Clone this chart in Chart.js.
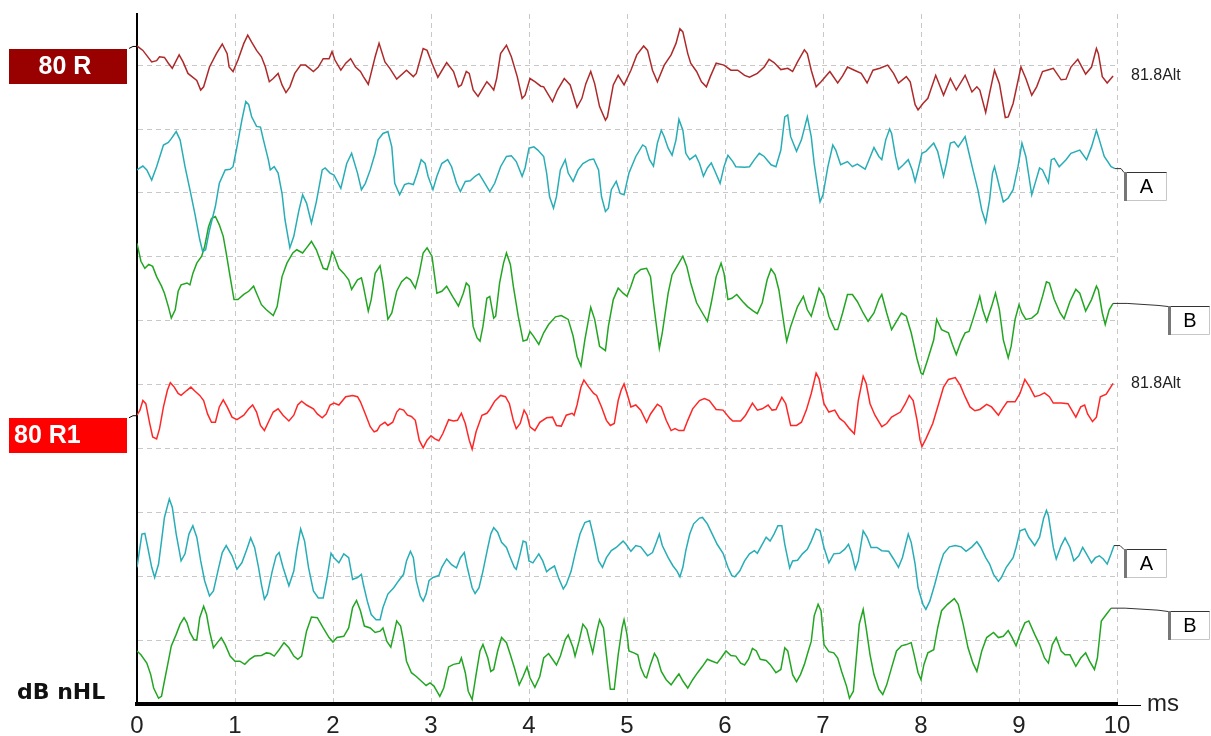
<!doctype html>
<html>
<head>
<meta charset="UTF-8">
<title>ABR traces</title>
<script src="https://cdn.jsdelivr.net/npm/chart.js@4"></script>
<style>
  html, body { margin: 0; padding: 0; background: #fff; }
  #wrap { width: 1211px; height: 736px; }
</style>
</head>
<body>
<div id="wrap"><canvas id="chart" width="1211" height="736"></canvas></div>
<script>
const timeTicks = [0, 1, 2, 3, 4, 5, 6, 7, 8, 9, 10];
const traceNames = ['80 R', '80 R1'];
const trailLabels = ['81.8Alt', '81.8Alt'];
const markerNames = ['A', 'B'];

// [ms, level] pairs, one array per trace
const trace80R = [[0,10.30],[0.06,10.23],[0.15,10.05],[0.20,10.07],[0.23,10.13],[0.28,10.12],[0.32,10.03],[0.36,9.95],[0.43,10.16],[0.47,10.05],[0.52,9.87],[0.61,9.76],[0.65,9.61],[0.68,9.66],[0.74,9.97],[0.81,10.18],[0.87,10.33],[0.92,10.18],[0.94,9.97],[0.98,9.90],[1.03,10.08],[1.09,10.34],[1.13,10.47],[1.17,10.36],[1.22,10.23],[1.27,10.13],[1.31,9.97],[1.35,9.74],[1.39,9.79],[1.44,9.87],[1.48,9.69],[1.52,9.57],[1.56,9.66],[1.61,9.87],[1.67,10.00],[1.72,10.00],[1.80,9.90],[1.85,9.97],[1.90,10.10],[1.96,10.10],[1.99,10.21],[2.02,10.08],[2.08,9.92],[2.13,10.03],[2.18,10.10],[2.23,9.97],[2.28,9.90],[2.31,9.82],[2.36,9.70],[2.38,9.82],[2.43,10.13],[2.47,10.34],[2.53,10.05],[2.58,9.95],[2.65,9.78],[2.75,9.92],[2.82,9.82],[2.85,9.87],[2.92,10.26],[2.96,10.23],[3.01,10.03],[3.07,9.81],[3.16,10.04],[3.23,9.90],[3.28,9.66],[3.31,9.69],[3.36,9.90],[3.39,9.87],[3.43,9.61],[3.48,9.51],[3.57,9.74],[3.60,9.69],[3.64,9.61],[3.67,9.79],[3.71,10.18],[3.77,10.31],[3.82,10.13],[3.88,9.82],[3.93,9.48],[3.96,9.53],[4.01,9.79],[4.06,9.74],[4.12,9.67],[4.15,9.66],[4.20,9.53],[4.24,9.43],[4.29,9.61],[4.36,9.79],[4.42,9.69],[4.49,9.34],[4.54,9.48],[4.58,9.71],[4.63,9.90],[4.67,9.71],[4.72,9.35],[4.78,9.14],[4.80,9.19],[4.86,9.69],[4.91,9.84],[4.97,9.69],[5.04,9.92],[5.10,10.16],[5.17,10.30],[5.21,10.23],[5.26,9.92],[5.31,9.74],[5.38,10.00],[5.45,10.16],[5.50,10.34],[5.54,10.57],[5.57,10.52],[5.62,10.18],[5.65,10.03],[5.71,9.90],[5.76,9.74],[5.81,9.66],[5.85,9.82],[5.91,10.03],[5.99,10.00],[6.06,9.92],[6.13,9.92],[6.20,9.84],[6.25,9.81],[6.33,9.87],[6.40,9.97],[6.45,10.09],[6.50,10.04],[6.57,9.93],[6.64,9.95],[6.69,9.90],[6.74,10.05],[6.81,10.24],[6.84,10.18],[6.88,9.92],[6.93,9.66],[6.98,9.74],[7.07,9.90],[7.15,9.72],[7.20,9.83],[7.25,9.97],[7.32,9.92],[7.39,9.87],[7.45,9.72],[7.51,9.92],[7.58,9.95],[7.66,10.00],[7.72,9.87],[7.77,9.72],[7.85,9.82],[7.89,9.74],[7.94,9.38],[7.97,9.30],[8.02,9.40],[8.07,9.48],[8.15,9.84],[8.23,9.53],[8.30,9.79],[8.36,9.61],[8.45,9.84],[8.52,9.58],[8.57,9.66],[8.60,9.61],[8.66,9.26],[8.70,9.56],[8.75,9.92],[8.80,9.71],[8.86,9.18],[8.89,9.19],[8.94,9.40],[9.02,9.97],[9.07,9.79],[9.13,9.53],[9.18,9.66],[9.24,9.90],[9.31,9.93],[9.35,9.95],[9.43,9.77],[9.48,9.78],[9.53,9.97],[9.60,10.09],[9.68,9.86],[9.74,9.97],[9.79,10.26],[9.81,10.18],[9.85,9.82],[9.90,9.72],[9.96,9.83]];

const trace80RA = [[0,8.36],[0.06,8.42],[0.10,8.36],[0.15,8.20],[0.20,8.41],[0.27,8.75],[0.32,8.79],[0.35,8.85],[0.40,8.96],[0.44,8.83],[0.49,8.41],[0.54,8.05],[0.59,7.68],[0.64,7.27],[0.67,7.08],[0.70,7.11],[0.74,7.42],[0.80,7.79],[0.84,8.15],[0.90,8.36],[0.95,8.37],[0.98,8.41],[1.02,8.72],[1.07,9.14],[1.11,9.43],[1.14,9.38],[1.17,9.19],[1.22,9.04],[1.26,9.03],[1.29,8.83],[1.34,8.52],[1.36,8.36],[1.40,8.41],[1.44,8.31],[1.48,7.99],[1.51,7.58],[1.56,7.14],[1.60,7.32],[1.65,7.71],[1.69,7.97],[1.73,7.84],[1.78,7.53],[1.83,7.86],[1.89,8.36],[1.92,8.39],[1.97,8.31],[2.01,8.28],[2.08,8.07],[2.14,8.46],[2.19,8.62],[2.25,8.31],[2.29,8.05],[2.33,8.15],[2.38,8.36],[2.43,8.62],[2.46,8.83],[2.51,8.93],[2.56,8.96],[2.60,8.72],[2.63,8.15],[2.68,7.97],[2.73,8.13],[2.77,8.15],[2.82,8.13],[2.86,8.31],[2.90,8.52],[2.94,8.46],[2.97,8.26],[3.02,8.05],[3.06,8.26],[3.11,8.46],[3.17,8.52],[3.21,8.41],[3.26,8.15],[3.30,8.02],[3.35,8.18],[3.40,8.19],[3.45,8.26],[3.49,8.30],[3.53,8.20],[3.60,8.02],[3.65,8.15],[3.71,8.41],[3.77,8.57],[3.82,8.58],[3.87,8.49],[3.93,8.26],[3.96,8.39],[4.00,8.70],[4.05,8.72],[4.09,8.67],[4.15,8.57],[4.18,8.31],[4.21,7.94],[4.25,7.76],[4.28,7.94],[4.32,8.36],[4.37,8.52],[4.40,8.31],[4.45,8.18],[4.50,8.36],[4.55,8.46],[4.62,8.52],[4.66,8.53],[4.71,8.36],[4.74,7.94],[4.78,7.71],[4.81,7.76],[4.84,8.05],[4.89,8.18],[4.93,7.99],[4.97,7.97],[5.02,8.31],[5.09,8.57],[5.16,8.75],[5.19,8.72],[5.23,8.52],[5.27,8.42],[5.31,8.78],[5.35,8.98],[5.38,8.88],[5.42,8.70],[5.46,8.59],[5.50,8.83],[5.53,9.15],[5.57,8.98],[5.60,8.62],[5.64,8.52],[5.70,8.59],[5.74,8.46],[5.78,8.26],[5.82,8.39],[5.86,8.47],[5.90,8.33],[5.95,8.15],[5.99,8.41],[6.03,8.59],[6.08,8.49],[6.11,8.41],[6.20,8.40],[6.25,8.41],[6.30,8.52],[6.35,8.62],[6.40,8.57],[6.47,8.44],[6.52,8.41],[6.57,8.67],[6.61,9.19],[6.64,9.22],[6.67,8.88],[6.73,8.65],[6.78,8.83],[6.84,9.19],[6.88,8.88],[6.91,8.46],[6.95,8.05],[6.97,7.86],[7.00,7.97],[7.05,8.41],[7.10,8.75],[7.13,8.67],[7.18,8.44],[7.25,8.49],[7.30,8.41],[7.35,8.45],[7.43,8.37],[7.47,8.52],[7.52,8.71],[7.57,8.57],[7.60,8.52],[7.64,8.83],[7.68,9.00],[7.70,8.93],[7.74,8.57],[7.77,8.37],[7.82,8.44],[7.87,8.52],[7.91,8.36],[7.94,8.18],[7.97,8.36],[8.01,8.62],[8.05,8.65],[8.13,8.78],[8.17,8.65],[8.23,8.26],[8.26,8.46],[8.30,8.78],[8.34,8.80],[8.38,8.72],[8.45,8.88],[8.49,8.62],[8.53,8.36],[8.58,8.05],[8.62,7.73],[8.66,7.54],[8.70,7.89],[8.73,8.31],[8.75,8.41],[8.80,8.10],[8.84,7.86],[8.89,7.92],[8.94,8.05],[8.99,8.41],[9.03,8.78],[9.07,8.57],[9.13,7.97],[9.17,8.18],[9.21,8.39],[9.24,8.36],[9.30,8.16],[9.33,8.52],[9.36,8.54],[9.41,8.41],[9.48,8.52],[9.53,8.62],[9.62,8.67],[9.69,8.52],[9.74,8.72],[9.79,8.98],[9.82,8.83],[9.87,8.57],[9.94,8.41],[9.98,8.38]];

const trace80RB = [[0,7.21],[0.04,6.93],[0.08,6.82],[0.12,6.88],[0.16,6.85],[0.20,6.69],[0.25,6.54],[0.28,6.43],[0.32,6.22],[0.35,6.04],[0.39,6.17],[0.42,6.46],[0.45,6.56],[0.51,6.59],[0.54,6.56],[0.57,6.74],[0.61,6.90],[0.66,7.01],[0.69,7.16],[0.73,7.47],[0.76,7.60],[0.80,7.63],[0.84,7.50],[0.88,7.32],[0.91,7.06],[0.95,6.69],[0.99,6.33],[1.03,6.33],[1.09,6.41],[1.14,6.46],[1.19,6.54],[1.22,6.43],[1.27,6.25],[1.32,6.17],[1.39,6.08],[1.43,6.22],[1.48,6.69],[1.53,6.90],[1.59,7.06],[1.63,7.11],[1.69,7.06],[1.73,7.14],[1.78,7.24],[1.83,7.11],[1.90,6.82],[1.94,6.80],[1.97,6.95],[1.99,7.08],[2.01,7.03],[2.06,6.82],[2.11,6.74],[2.16,6.64],[2.19,6.49],[2.25,6.64],[2.29,6.67],[2.31,6.54],[2.36,6.15],[2.39,6.33],[2.43,6.74],[2.48,6.86],[2.51,6.59],[2.56,6.02],[2.60,6.12],[2.65,6.46],[2.70,6.61],[2.75,6.68],[2.79,6.64],[2.84,6.51],[2.88,6.74],[2.92,7.06],[2.96,7.14],[3.01,7.01],[3.06,6.43],[3.11,6.46],[3.16,6.54],[3.22,6.38],[3.28,6.23],[3.33,6.43],[3.36,6.59],[3.39,6.54],[3.43,5.91],[3.47,5.73],[3.50,5.68],[3.53,5.91],[3.57,6.35],[3.60,6.38],[3.64,6.04],[3.66,6.07],[3.70,6.59],[3.74,6.90],[3.77,7.06],[3.81,6.88],[3.84,6.54],[3.89,6.07],[3.94,5.68],[3.98,5.70],[4.01,5.83],[4.04,5.77],[4.10,5.63],[4.15,5.81],[4.20,5.94],[4.27,6.06],[4.33,6.08],[4.40,6.02],[4.45,5.76],[4.49,5.44],[4.53,5.29],[4.57,5.70],[4.63,6.21],[4.67,6.02],[4.72,5.60],[4.78,5.53],[4.81,5.91],[4.86,6.33],[4.91,6.51],[4.96,6.43],[5.00,6.38],[5.04,6.54],[5.08,6.72],[5.14,6.80],[5.20,6.82],[5.24,6.69],[5.27,6.28],[5.31,5.81],[5.33,5.57],[5.36,5.81],[5.42,6.43],[5.46,6.72],[5.51,6.85],[5.57,7.01],[5.61,6.85],[5.65,6.59],[5.71,6.28],[5.77,6.12],[5.82,5.99],[5.86,6.28],[5.91,6.69],[5.96,6.90],[5.99,6.74],[6.03,6.33],[6.07,6.35],[6.12,6.41],[6.18,6.30],[6.23,6.22],[6.29,6.15],[6.33,6.11],[6.38,6.28],[6.43,6.64],[6.47,6.81],[6.51,6.72],[6.55,6.48],[6.61,5.86],[6.63,5.68],[6.67,5.91],[6.74,6.22],[6.80,6.38],[6.84,6.17],[6.88,6.07],[6.92,6.28],[6.96,6.51],[7.01,6.38],[7.06,6.07],[7.12,5.86],[7.15,5.86],[7.20,6.12],[7.25,6.41],[7.30,6.41],[7.35,6.30],[7.41,6.12],[7.46,5.99],[7.52,6.12],[7.57,6.33],[7.60,6.41],[7.65,6.12],[7.70,5.86],[7.75,5.99],[7.80,6.12],[7.85,6.07],[7.90,5.81],[7.96,5.40],[8.00,5.18],[8.02,5.16],[8.07,5.40],[8.13,5.70],[8.16,6.02],[8.21,5.86],[8.28,5.81],[8.32,5.63],[8.36,5.47],[8.41,5.68],[8.45,5.81],[8.49,5.83],[8.53,6.02],[8.57,6.22],[8.60,6.38],[8.63,6.17],[8.67,5.99],[8.72,6.22],[8.76,6.43],[8.80,6.17],[8.84,5.70],[8.89,5.42],[8.92,5.60],[8.96,6.02],[9.00,6.25],[9.03,6.12],[9.07,6.02],[9.13,6.04],[9.19,6.12],[9.24,6.38],[9.28,6.61],[9.31,6.59],[9.36,6.33],[9.42,6.12],[9.46,6.03],[9.52,6.30],[9.58,6.49],[9.62,6.43],[9.68,6.15],[9.74,6.33],[9.79,6.54],[9.81,6.48],[9.85,6.12],[9.88,5.94],[9.92,6.17],[9.96,6.27]];

const trace80R1 = [[0,4.52],[0.03,4.60],[0.06,4.75],[0.09,4.70],[0.13,4.39],[0.16,4.18],[0.20,4.15],[0.23,4.31],[0.27,4.65],[0.31,4.91],[0.34,5.03],[0.38,4.96],[0.42,4.86],[0.45,4.83],[0.51,4.91],[0.55,4.96],[0.59,4.90],[0.64,4.83],[0.68,4.75],[0.72,4.54],[0.76,4.41],[0.80,4.41],[0.84,4.65],[0.88,4.76],[0.92,4.65],[0.97,4.49],[1.02,4.45],[1.09,4.52],[1.14,4.62],[1.18,4.68],[1.22,4.57],[1.26,4.36],[1.30,4.28],[1.34,4.41],[1.39,4.57],[1.44,4.62],[1.49,4.52],[1.55,4.43],[1.60,4.52],[1.64,4.68],[1.68,4.74],[1.73,4.68],[1.80,4.62],[1.84,4.54],[1.89,4.48],[1.93,4.54],[1.97,4.68],[2.01,4.71],[2.06,4.68],[2.13,4.81],[2.20,4.83],[2.25,4.81],[2.28,4.73],[2.33,4.54],[2.38,4.34],[2.42,4.26],[2.45,4.28],[2.48,4.36],[2.53,4.41],[2.56,4.36],[2.61,4.41],[2.65,4.57],[2.68,4.62],[2.72,4.60],[2.76,4.52],[2.80,4.50],[2.84,4.44],[2.88,4.13],[2.92,4.01],[2.96,4.13],[3.00,4.20],[3.04,4.15],[3.08,4.12],[3.12,4.23],[3.18,4.45],[3.23,4.43],[3.27,4.44],[3.31,4.55],[3.35,4.39],[3.39,4.13],[3.42,3.99],[3.46,4.26],[3.52,4.52],[3.57,4.55],[3.60,4.61],[3.65,4.74],[3.71,4.83],[3.76,4.81],[3.80,4.70],[3.84,4.44],[3.87,4.31],[3.91,4.39],[3.95,4.60],[3.98,4.52],[4.01,4.34],[4.06,4.28],[4.11,4.41],[4.18,4.48],[4.24,4.49],[4.28,4.36],[4.33,4.35],[4.38,4.52],[4.44,4.55],[4.46,4.52],[4.49,4.68],[4.53,4.96],[4.56,5.07],[4.61,4.96],[4.66,4.86],[4.69,4.83],[4.74,4.65],[4.79,4.44],[4.83,4.36],[4.87,4.39],[4.91,4.75],[4.94,4.91],[4.97,5.01],[5.01,4.81],[5.04,4.65],[5.09,4.68],[5.14,4.60],[5.20,4.41],[5.24,4.54],[5.31,4.69],[5.35,4.65],[5.40,4.44],[5.45,4.28],[5.49,4.31],[5.53,4.28],[5.58,4.28],[5.62,4.44],[5.67,4.62],[5.74,4.75],[5.79,4.78],[5.84,4.75],[5.91,4.61],[5.98,4.60],[6.05,4.47],[6.08,4.43],[6.16,4.43],[6.21,4.52],[6.28,4.71],[6.33,4.60],[6.38,4.62],[6.44,4.68],[6.48,4.60],[6.52,4.61],[6.58,4.80],[6.62,4.70],[6.67,4.36],[6.73,4.36],[6.78,4.41],[6.83,4.60],[6.88,4.86],[6.93,5.18],[6.96,5.09],[7.01,4.70],[7.06,4.57],[7.12,4.60],[7.17,4.47],[7.22,4.41],[7.27,4.31],[7.32,4.23],[7.36,4.75],[7.41,5.13],[7.44,5.02],[7.48,4.70],[7.53,4.52],[7.60,4.34],[7.65,4.39],[7.70,4.49],[7.79,4.57],[7.84,4.70],[7.88,4.83],[7.92,4.75],[7.96,4.44],[7.99,4.13],[8.01,4.03],[8.05,4.15],[8.12,4.39],[8.18,4.70],[8.23,4.96],[8.28,5.08],[8.35,5.11],[8.40,4.99],[8.45,4.81],[8.50,4.65],[8.55,4.59],[8.60,4.61],[8.67,4.69],[8.72,4.65],[8.79,4.52],[8.83,4.62],[8.88,4.73],[8.96,4.73],[9.01,4.86],[9.06,5.08],[9.11,4.96],[9.16,4.81],[9.21,4.83],[9.26,4.87],[9.31,4.81],[9.35,4.71],[9.43,4.71],[9.50,4.70],[9.55,4.57],[9.58,4.49],[9.63,4.65],[9.67,4.68],[9.70,4.54],[9.75,4.42],[9.79,4.49],[9.83,4.81],[9.89,4.85],[9.96,5.02]];

const trace80R1A = [[0,2.14],[0.03,2.45],[0.05,2.66],[0.08,2.67],[0.11,2.45],[0.15,2.14],[0.18,1.98],[0.22,2.19],[0.25,2.55],[0.28,2.92],[0.33,3.21],[0.36,3.08],[0.40,2.66],[0.45,2.24],[0.49,2.35],[0.53,2.66],[0.57,2.79],[0.61,2.61],[0.65,2.24],[0.69,1.93],[0.74,1.69],[0.78,1.77],[0.83,2.11],[0.87,2.37],[0.91,2.48],[0.97,2.32],[1.02,2.11],[1.07,2.21],[1.12,2.42],[1.16,2.60],[1.20,2.45],[1.24,2.14],[1.27,1.87],[1.30,1.64],[1.33,1.72],[1.38,2.08],[1.42,2.32],[1.45,2.37],[1.49,2.14],[1.55,1.85],[1.60,2.08],[1.63,2.40],[1.67,2.74],[1.71,2.55],[1.75,2.14],[1.80,1.77],[1.85,1.66],[1.90,1.66],[1.94,1.98],[1.98,2.36],[2.01,2.29],[2.06,2.21],[2.11,2.35],[2.16,2.29],[2.20,1.95],[2.25,1.98],[2.29,2.03],[2.31,1.87],[2.35,1.61],[2.39,1.40],[2.44,1.32],[2.48,1.32],[2.51,1.51],[2.56,1.72],[2.62,1.82],[2.67,1.93],[2.72,2.03],[2.75,2.24],[2.79,2.39],[2.82,2.29],[2.85,1.93],[2.89,1.69],[2.92,1.61],[2.95,1.72],[2.98,1.93],[3.02,1.98],[3.08,2.01],[3.11,2.14],[3.16,2.27],[3.21,2.18],[3.26,2.13],[3.30,2.29],[3.34,2.37],[3.37,2.14],[3.42,1.82],[3.45,1.73],[3.49,1.82],[3.53,2.08],[3.58,2.45],[3.61,2.66],[3.64,2.76],[3.68,2.69],[3.72,2.53],[3.77,2.45],[3.81,2.29],[3.85,2.14],[3.87,2.11],[3.91,2.35],[3.94,2.55],[3.97,2.53],[4.00,2.24],[4.04,2.21],[4.10,2.35],[4.14,2.24],[4.18,2.07],[4.21,2.11],[4.26,2.16],[4.30,1.98],[4.35,1.80],[4.38,1.87],[4.43,2.08],[4.47,2.35],[4.52,2.66],[4.57,2.84],[4.62,2.87],[4.66,2.61],[4.71,2.24],[4.75,2.14],[4.79,2.29],[4.84,2.40],[4.89,2.45],[4.96,2.55],[4.99,2.50],[5.04,2.39],[5.09,2.48],[5.14,2.46],[5.21,2.32],[5.26,2.37],[5.30,2.53],[5.33,2.66],[5.36,2.48],[5.42,2.29],[5.47,2.16],[5.51,2.08],[5.54,1.99],[5.57,2.14],[5.60,2.40],[5.64,2.66],[5.68,2.82],[5.74,2.91],[5.77,2.92],[5.82,2.82],[5.87,2.66],[5.92,2.50],[5.98,2.36],[6.03,2.14],[6.07,2.01],[6.10,1.99],[6.15,2.08],[6.20,2.24],[6.25,2.35],[6.30,2.40],[6.33,2.36],[6.38,2.50],[6.42,2.61],[6.46,2.55],[6.50,2.66],[6.54,2.79],[6.58,2.79],[6.61,2.50],[6.66,2.13],[6.69,2.24],[6.74,2.25],[6.79,2.35],[6.84,2.42],[6.88,2.55],[6.93,2.74],[6.97,2.71],[7.01,2.45],[7.06,2.21],[7.11,2.35],[7.17,2.36],[7.22,2.42],[7.26,2.50],[7.29,2.37],[7.33,2.11],[7.36,2.24],[7.41,2.71],[7.45,2.61],[7.49,2.45],[7.55,2.45],[7.60,2.40],[7.67,2.39],[7.72,2.27],[7.77,2.14],[7.81,2.29],[7.87,2.66],[7.90,2.53],[7.94,2.19],[7.97,1.82],[8.02,1.56],[8.05,1.48],[8.09,1.61],[8.14,1.87],[8.19,2.16],[8.23,2.35],[8.29,2.46],[8.35,2.48],[8.41,2.46],[8.46,2.39],[8.52,2.46],[8.57,2.54],[8.61,2.45],[8.66,2.29],[8.70,2.19],[8.74,2.03],[8.79,1.92],[8.82,1.98],[8.87,2.14],[8.94,2.29],[8.97,2.45],[9.01,2.71],[9.06,2.74],[9.10,2.61],[9.16,2.48],[9.21,2.61],[9.25,2.90],[9.28,3.03],[9.30,2.95],[9.35,2.45],[9.38,2.27],[9.43,2.48],[9.47,2.60],[9.52,2.45],[9.56,2.24],[9.61,2.32],[9.65,2.45],[9.70,2.32],[9.74,2.21],[9.78,2.29],[9.82,2.32],[9.86,2.27],[9.90,2.19],[9.94,2.35],[9.97,2.48]];

const trace80R1B = [[0,0.83],[0.04,0.77],[0.10,0.64],[0.14,0.46],[0.17,0.25],[0.22,0.09],[0.25,0.12],[0.28,0.36],[0.32,0.67],[0.35,0.91],[0.40,1.09],[0.44,1.25],[0.48,1.35],[0.51,1.27],[0.54,1.12],[0.58,1.01],[0.61,1.00],[0.64,1.35],[0.68,1.53],[0.71,1.40],[0.74,1.14],[0.78,0.88],[0.82,0.96],[0.86,1.04],[0.90,0.93],[0.95,0.75],[1.00,0.67],[1.05,0.67],[1.10,0.62],[1.15,0.70],[1.20,0.75],[1.27,0.76],[1.32,0.80],[1.36,0.79],[1.40,0.75],[1.45,0.85],[1.50,0.96],[1.55,0.88],[1.60,0.75],[1.64,0.70],[1.68,0.75],[1.73,1.14],[1.78,1.36],[1.84,1.35],[1.90,1.19],[1.96,1.04],[2.00,0.97],[2.04,1.04],[2.11,1.06],[2.16,1.19],[2.20,1.51],[2.24,1.62],[2.28,1.46],[2.32,1.22],[2.38,1.19],[2.43,1.12],[2.48,1.14],[2.51,1.19],[2.55,0.98],[2.59,0.89],[2.62,1.09],[2.65,1.30],[2.69,1.22],[2.72,0.98],[2.75,0.67],[2.80,0.49],[2.85,0.43],[2.90,0.36],[2.95,0.29],[2.99,0.33],[3.03,0.28],[3.09,0.12],[3.13,0.25],[3.18,0.58],[3.23,0.62],[3.29,0.64],[3.31,0.72],[3.35,0.49],[3.38,0.20],[3.42,0.07],[3.46,0.46],[3.50,0.83],[3.53,0.93],[3.58,0.72],[3.61,0.51],[3.64,0.54],[3.68,0.83],[3.72,1.04],[3.77,0.96],[3.81,0.77],[3.85,0.57],[3.90,0.30],[3.94,0.43],[3.98,0.58],[4.01,0.41],[4.06,0.26],[4.11,0.43],[4.15,0.72],[4.20,0.79],[4.24,0.70],[4.28,0.61],[4.32,0.75],[4.37,1.01],[4.40,1.08],[4.45,0.88],[4.47,0.75],[4.51,0.98],[4.55,1.25],[4.59,1.17],[4.62,0.98],[4.65,0.80],[4.69,1.12],[4.72,1.32],[4.76,1.19],[4.79,0.77],[4.83,0.23],[4.87,0.23],[4.91,0.77],[4.95,1.19],[4.97,1.32],[5.00,1.09],[5.02,0.83],[5.07,0.80],[5.11,0.77],[5.14,0.57],[5.18,0.43],[5.20,0.41],[5.24,0.62],[5.28,0.79],[5.31,0.72],[5.35,0.51],[5.40,0.38],[5.45,0.30],[5.50,0.41],[5.53,0.47],[5.57,0.36],[5.62,0.25],[5.67,0.38],[5.72,0.49],[5.77,0.59],[5.82,0.70],[5.87,0.67],[5.92,0.64],[5.96,0.72],[6.01,0.83],[6.06,0.76],[6.11,0.75],[6.16,0.64],[6.20,0.61],[6.24,0.70],[6.28,0.87],[6.32,0.83],[6.36,0.70],[6.42,0.68],[6.46,0.62],[6.52,0.49],[6.57,0.54],[6.61,0.88],[6.64,0.83],[6.69,0.46],[6.73,0.35],[6.77,0.46],[6.81,0.62],[6.85,0.83],[6.88,0.98],[6.91,1.38],[6.95,1.56],[6.98,1.46],[7.01,0.93],[7.06,0.82],[7.11,0.80],[7.15,0.72],[7.19,0.51],[7.24,0.28],[7.27,0.09],[7.31,0.20],[7.37,1.25],[7.41,1.48],[7.44,1.19],[7.48,0.77],[7.52,0.46],[7.57,0.23],[7.61,0.15],[7.65,0.30],[7.70,0.57],[7.75,0.83],[7.80,0.91],[7.85,0.93],[7.90,0.96],[7.93,0.77],[7.97,0.49],[8.00,0.38],[8.03,0.62],[8.07,0.80],[8.13,0.85],[8.17,1.19],[8.21,1.46],[8.27,1.56],[8.34,1.65],[8.38,1.56],[8.43,1.25],[8.48,0.88],[8.53,0.64],[8.57,0.51],[8.62,0.83],[8.67,1.04],[8.74,1.12],[8.79,1.04],[8.84,1.06],[8.89,1.15],[8.93,1.04],[8.97,0.91],[9.01,1.09],[9.06,1.27],[9.10,1.30],[9.16,1.09],[9.21,0.93],[9.26,0.72],[9.30,0.64],[9.34,0.93],[9.38,1.04],[9.43,0.83],[9.47,0.77],[9.52,0.77],[9.58,0.59],[9.63,0.72],[9.68,0.80],[9.72,0.67],[9.77,0.54],[9.80,0.72],[9.84,1.30],[9.89,1.40],[9.94,1.50]];

const traces = [trace80R, trace80RA, trace80RB, trace80R1, trace80R1A, trace80R1B];
const traceColors = ['#ae2a2a', '#27adb6', '#22a622', '#ff2626', '#27adb6', '#22a622'];
const nameBoxColors = ['#990000', '#ff0000'];

const FONT = '"Liberation Sans", Arial, sans-serif';

const decor = {
  id: 'decor',
  afterDraw(chart) {
    const ctx = chart.ctx;
    const area = chart.chartArea;
    const ends = traces.map((t, i) => {
      const pts = chart.getDatasetMeta(i).data;
      return { first: pts[0], last: pts[pts.length - 1] };
    });
    ctx.save();

    // name boxes at the start of the two main traces
    [0, 3].forEach((di, k) => {
      const p = ends[di].first;
      ctx.strokeStyle = '#000';
      ctx.lineWidth = 1;
      ctx.beginPath();
      ctx.moveTo(area.left - 8, p.y + 2.5);
      ctx.lineTo(area.left - 4, p.y + 0.5);
      ctx.lineTo(area.left, p.y + 0.5);
      ctx.stroke();

      ctx.fillStyle = nameBoxColors[k];
      ctx.fillRect(9, Math.round(p.y) + 3, 118, 35);
      ctx.fillStyle = '#fff';
      ctx.font = 'bold 25px ' + FONT;
      ctx.textBaseline = 'middle';
      if (k === 0) {
        ctx.textAlign = 'center';
        ctx.fillText(traceNames[k], 65, p.y + 21);
      } else {
        ctx.textAlign = 'left';
        ctx.fillText(traceNames[k], 14, p.y + 21);
      }

      const q = ends[di].last;
      ctx.fillStyle = '#222';
      ctx.font = '16px ' + FONT;
      ctx.textAlign = 'left';
      ctx.fillText(trailLabels[k], area.right + 14, q.y);
    });

    // A / B marker boxes hanging off the sub traces
    [[1, 0], [2, 1], [4, 0], [5, 1]].forEach(([di, m]) => {
      const q = ends[di].last;
      const top = Math.round(q.y) + 3.5;
      const bx = m === 0 ? area.right + 7 : area.right + 51;
      const bw = m === 0 ? 43 : 42;
      const bh = 28;
      ctx.strokeStyle = '#333';
      ctx.lineWidth = 1;
      ctx.beginPath();
      ctx.moveTo(q.x, q.y);
      if (m === 0) {
        ctx.lineTo(q.x + 6, q.y);
      } else {
        ctx.lineTo(q.x + 14, q.y);
        ctx.lineTo(bx - 10, q.y + 2);
      }
      ctx.lineTo(bx, top);
      ctx.lineTo(bx + bw, top);
      ctx.stroke();

      ctx.strokeStyle = '#c6c6c6';
      ctx.beginPath();
      ctx.moveTo(bx + bw - 0.5, top);
      ctx.lineTo(bx + bw - 0.5, top + bh);
      ctx.lineTo(bx, top + bh);
      ctx.stroke();

      ctx.fillStyle = '#777';
      ctx.fillRect(bx, top - 0.5, 3, bh + 1);

      ctx.fillStyle = '#000';
      ctx.font = '20px ' + FONT;
      ctx.textAlign = 'center';
      ctx.textBaseline = 'middle';
      ctx.fillText(markerNames[m], bx + bw / 2 + 1, top + bh / 2 + 1);
    });

    // axis tail, unit and level labels
    ctx.strokeStyle = '#000';
    ctx.lineWidth = 1;
    ctx.beginPath();
    ctx.moveTo(area.right, area.bottom + 1.5);
    ctx.lineTo(area.right + 24, area.bottom + 1.5);
    ctx.stroke();

    ctx.fillStyle = '#222';
    ctx.font = '24px ' + FONT;
    ctx.textAlign = 'left';
    ctx.textBaseline = 'middle';
    ctx.fillText('ms', area.right + 30, area.bottom);

    ctx.fillStyle = '#111';
    ctx.font = 'bold 22px "DejaVu Sans", sans-serif';
    ctx.fillText('dB nHL', 17, area.bottom - 11);

    ctx.restore();
  }
};

new Chart('chart', {
  type: 'line',
  data: {
    datasets: traces.map((t, i) => ({
      data: t.map(([x, y]) => ({ x, y })),
      borderColor: traceColors[i],
      borderWidth: 1.5,
      pointRadius: 0,
      tension: 0,
      fill: false,
    })),
  },
  options: {
    responsive: false,
    animation: false,
    events: [],
    layout: { padding: { left: 137, right: 94, top: 14, bottom: 0 } },
    plugins: { legend: { display: false }, tooltip: { enabled: false } },
    scales: {
      x: {
        type: 'linear',
        min: 0,
        max: 10,
        afterBuildTicks: (scale) => { scale.ticks = timeTicks.map((v) => ({ value: v })); },
        afterFit: (scale) => { scale.height = 32; },
        ticks: {
          font: { family: FONT, size: 24 },
          color: '#222',
          padding: 8,
          maxRotation: 0,
          autoSkip: false,
        },
        grid: { color: '#c8c8c8', lineWidth: 1, drawTicks: false },
        border: { display: true, color: '#000', width: 4, dash: [5, 4] },
      },
      y: {
        type: 'linear',
        min: 0,
        max: 10.8,
        afterFit: (scale) => { scale.width = 0; },
        ticks: { display: false, stepSize: 1, includeBounds: false },
        grid: { color: '#c8c8c8', lineWidth: 1, drawTicks: false },
        border: { display: true, color: '#000', width: 2, dash: [5, 4] },
      },
    },
  },
  plugins: [decor],
});
</script>
</body>
</html>
